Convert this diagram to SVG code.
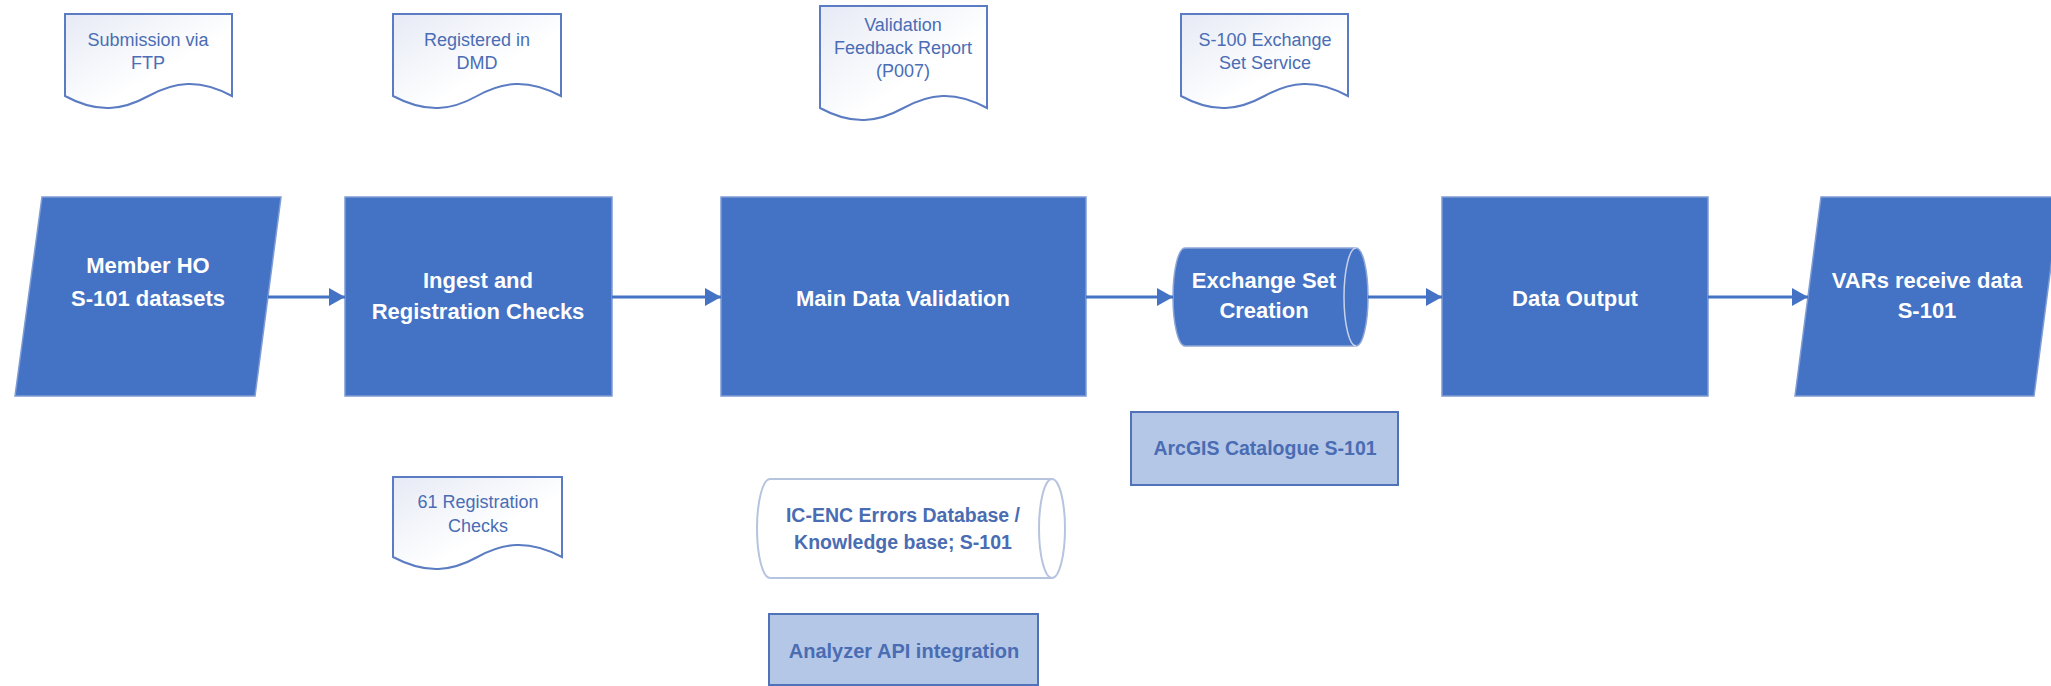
<svg xmlns="http://www.w3.org/2000/svg" width="2051" height="686" viewBox="0 0 2051 686">
  <defs>
    <linearGradient id="docGrad" x1="0" y1="0" x2="1" y2="1">
      <stop offset="0" stop-color="#e6eaf5"/>
      <stop offset="0.6" stop-color="#ffffff"/>
    </linearGradient>
    <marker id="arrow" markerUnits="userSpaceOnUse" markerWidth="17" markerHeight="18" refX="16" refY="9" orient="auto">
      <path d="M0,0 L16,9 L0,18 z" fill="#4472C4"/>
    </marker>
    <style>
      .main { fill: #4472C4; stroke: #7f9cd4; stroke-width: 1.5; }
      .mtext { font-family: "Liberation Sans", Arial, sans-serif; font-weight: bold; font-size: 22px; fill: #ffffff; text-anchor: middle; }
      .doc { fill: url(#docGrad); stroke: #5b7cc2; stroke-width: 2; }
      .dtext { font-family: "Liberation Sans", Arial, sans-serif; font-size: 18px; fill: #4a6db5; text-anchor: middle; }
      .light { fill: #B4C7E7; stroke: #4f72b8; stroke-width: 2; }
      .ltext { font-family: "Liberation Sans", Arial, sans-serif; font-weight: bold; font-size: 19.5px; fill: #4a6cb3; text-anchor: middle; }
      .db { fill: #ffffff; stroke: #b7c4df; stroke-width: 2; }
      .conn { stroke: #4472C4; stroke-width: 3; fill: none; marker-end: url(#arrow); }
    </style>
  </defs>

  <g id="doc-submission">
    <path class="doc" d="M65,14 H232 V96 C199,78 174,82 148.5,96 C123,110 98,114 65,96 Z"/>
    <text class="dtext" x="148" y="46">Submission via</text>
    <text class="dtext" x="148" y="69">FTP</text>
  </g>
  <g id="doc-registered">
    <path class="doc" d="M393,14 H561 V96 C527,78 502,82 477,96 C452,110 427,114 393,96 Z"/>
    <text class="dtext" x="477" y="46">Registered in</text>
    <text class="dtext" x="477" y="69">DMD</text>
  </g>
  <g id="doc-validation">
    <path class="doc" d="M820,6 H987 V108 C954,90 929,94 903.5,108 C878,122 853,126 820,108 Z"/>
    <text class="dtext" x="903" y="31">Validation</text>
    <text class="dtext" x="903" y="54">Feedback Report</text>
    <text class="dtext" x="903" y="77">(P007)</text>
  </g>
  <g id="doc-s100">
    <path class="doc" d="M1181,14 H1348 V96 C1315,78 1290,82 1264.5,96 C1239,110 1214,114 1181,96 Z"/>
    <text class="dtext" x="1265" y="46">S-100 Exchange</text>
    <text class="dtext" x="1265" y="69">Set Service</text>
  </g>

  <g id="member-ho">
    <path class="main" d="M42,197 H281 L255,396 H15 Z"/>
    <text class="mtext" x="148" y="273">Member HO</text>
    <text class="mtext" x="148" y="306">S-101 datasets</text>
  </g>
  <g id="ingest">
    <rect class="main" x="345" y="197" width="267" height="199"/>
    <text class="mtext" x="478" y="288">Ingest and</text>
    <text class="mtext" x="478" y="319">Registration Checks</text>
  </g>
  <g id="main-validation">
    <rect class="main" x="721" y="197" width="365" height="199"/>
    <text class="mtext" x="903" y="306">Main Data Validation</text>
  </g>
  <g id="exchange-set">
    <path d="M1185,248 H1356 A12,49 0 0 1 1356,346 H1185 A12,49 0 0 1 1185,248 Z" fill="#4472C4" stroke="#8ea6d6" stroke-width="1.5"/>
    <path d="M1356,346 A12,49 0 0 1 1356,248" fill="none" stroke="#c8d3ea" stroke-width="1.5"/>
    <text class="mtext" x="1264" y="288">Exchange Set</text>
    <text class="mtext" x="1264" y="318">Creation</text>
  </g>
  <g id="data-output">
    <rect class="main" x="1442" y="197" width="266" height="199"/>
    <text class="mtext" x="1575" y="306">Data Output</text>
  </g>
  <g id="vars">
    <path class="main" d="M1821,197 H2060 L2034,396 H1795 Z"/>
    <text class="mtext" x="1927" y="288">VARs receive data</text>
    <text class="mtext" x="1927" y="318">S-101</text>
  </g>

  <g id="arcgis">
    <rect class="light" x="1131" y="412" width="267" height="73"/>
    <text class="ltext" x="1265" y="455">ArcGIS Catalogue S-101</text>
  </g>
  <g id="doc-61-checks">
    <path class="doc" d="M393,477 H562 V557 C528,539 503,543 477.5,557 C452,571 427,575 393,557 Z"/>
    <text class="dtext" x="478" y="508">61 Registration</text>
    <text class="dtext" x="478" y="532">Checks</text>
  </g>
  <g id="icenc-db">
    <path class="db" d="M770,479 H1052 A13,49.5 0 0 1 1052,578 H770 A13,49.5 0 0 1 770,479 Z"/>
    <path d="M1052,578 A13,49.5 0 0 1 1052,479" fill="none" stroke="#b7c4df" stroke-width="2"/>
    <text class="ltext" x="903" y="522">IC-ENC Errors Database /</text>
    <text class="ltext" x="903" y="549">Knowledge base; S-101</text>
  </g>
  <g id="analyzer">
    <rect class="light" x="769" y="614" width="269" height="71"/>
    <text class="ltext" x="904" y="658" style="font-size:20px">Analyzer API integration</text>
  </g>

  <g id="connectors">
    <line class="conn" x1="268" y1="297" x2="345" y2="297"/>
    <line class="conn" x1="612" y1="297" x2="721" y2="297"/>
    <line class="conn" x1="1086" y1="297" x2="1173" y2="297"/>
    <line class="conn" x1="1368" y1="297" x2="1442" y2="297"/>
    <line class="conn" x1="1708" y1="297" x2="1808" y2="297"/>
  </g>
</svg>
